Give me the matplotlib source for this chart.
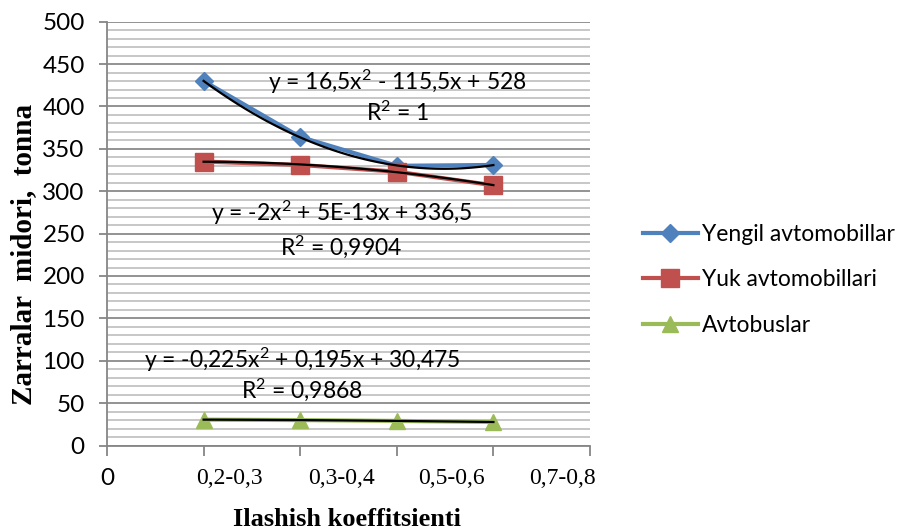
import matplotlib.pyplot as plt
import numpy as np
from matplotlib.ticker import MultipleLocator, FixedLocator

# Data
x = [1, 2, 3, 4]
yengil = [430, 364, 330, 331]
yuk = [335, 331, 323, 307]
avtobus = [30.5, 30, 29, 27.7]

series_names = ['Yengil avtomobillar', 'Yuk avtomobillari', 'Avtobuslar']
x_labels = ['0', '0,2-0,3', '0,3-0,4', '0,5-0,6', '0,7-0,8']
equations = ['y = 16,5x$^{2}$ - 115,5x + 528\nR$^{2}$ = 1',
             'y = -2x$^{2}$ + 5E-13x + 336,5\nR$^{2}$ = 0,9904',
             'y = -0,225x$^{2}$ + 0,195x + 30,475\nR$^{2}$ = 0,9868']

sans = ['Lato', 'DejaVu Sans']
serif = ['Liberation Serif', 'DejaVu Serif']
plt.rcParams['mathtext.fontset'] = 'custom'
plt.rcParams['mathtext.rm'] = 'Lato'
plt.rcParams['mathtext.default'] = 'regular'

fig = plt.figure(figsize=(9.09, 5.31), dpi=100)
ax = fig.add_axes([107 / 909, 1 - 445.5 / 531, (590 - 107) / 909, (445.5 - 21.7) / 531])

ax.plot(x, yengil, color='#4F81BD', lw=3, marker='D', ms=9, label=series_names[0], zorder=3)
ax.plot(x, yuk, color='#C0504D', lw=3, marker='s', ms=12.5, label=series_names[1], zorder=4)
ax.plot(x, avtobus, color='#9BBB59', lw=3, marker='^', ms=12, label=series_names[2], zorder=5)

# polynomial trend lines (order 2)
xs = np.linspace(1, 4, 100)
for ys in (yengil, yuk, avtobus):
    c = np.polyfit(x, ys, 2)
    ax.plot(xs, np.polyval(c, xs), color='black', lw=1.6, zorder=6)

# equation labels
eq_pos = [(397, 82, 398, 113), (342, 213, 341, 247), (302, 360, 302, 390)]
for eq, (x1, y1, x2, y2) in zip(equations, eq_pos):
    l1, l2 = eq.split('\n')
    fig.text(x1 / 909, 1 - y1 / 531, l1, ha='center', va='center', fontsize=16.5, family=sans, zorder=7)
    fig.text(x2 / 909, 1 - y2 / 531, l2, ha='center', va='center', fontsize=16.5, family=sans, zorder=7)

ax.set_xlim(0, 5)
ax.set_ylim(0, 500)
ax.yaxis.set_major_locator(MultipleLocator(50))
ax.yaxis.set_minor_locator(MultipleLocator(10))
ax.grid(axis='y', which='major', color='#8a8a8a', lw=1.3)
ax.grid(axis='y', which='minor', color='#b8b8b8', lw=1.1)
ax.set_axisbelow(True)
ax.tick_params(axis='y', which='major', length=6, width=1.3, color='#868686', pad=10, labelsize=17.5)
ax.tick_params(axis='y', which='minor', length=0)
for lab in ax.get_yticklabels():
    lab.set_family(sans)

# tick marks at category boundaries, labels placed separately
ax.xaxis.set_major_locator(FixedLocator([0, 1, 2, 3, 4, 5]))
ax.set_xticklabels([''] * 6)
ax.tick_params(axis='x', which='major', length=7, width=1.3, color='#868686')
label_pos = [0, 1.27, 2.43, 3.57, 4.71]
for i, (p, t) in enumerate(zip(label_pos, x_labels)):
    ax.text(p, -39, t, ha='center', va='center', fontsize=17 if i else 17.5,
            family=serif if i else sans)

for s in ['top', 'right']:
    ax.spines[s].set_visible(False)
for s in ['left', 'bottom']:
    ax.spines[s].set_color('#868686')
    ax.spines[s].set_linewidth(1.3)

fig.text(347 / 909, 1 - 520 / 531, 'Ilashish koeffitsienti', ha='center', va='center',
         fontsize=19, fontweight='bold', family=serif)
fig.text(24 / 909, 1 - 254 / 531, 'Zarralar  midori,  tonna', ha='center', va='center',
         rotation=90, fontsize=21, fontweight='bold', family=serif)

leg = fig.legend(loc='center left', bbox_to_anchor=(622 / 909, 1 - 280 / 531), frameon=False,
                 handlelength=2.4, handletextpad=0.2, labelspacing=1.05,
                 prop={'family': sans, 'size': 16.5})

fig.savefig('out.png', dpi=100)
